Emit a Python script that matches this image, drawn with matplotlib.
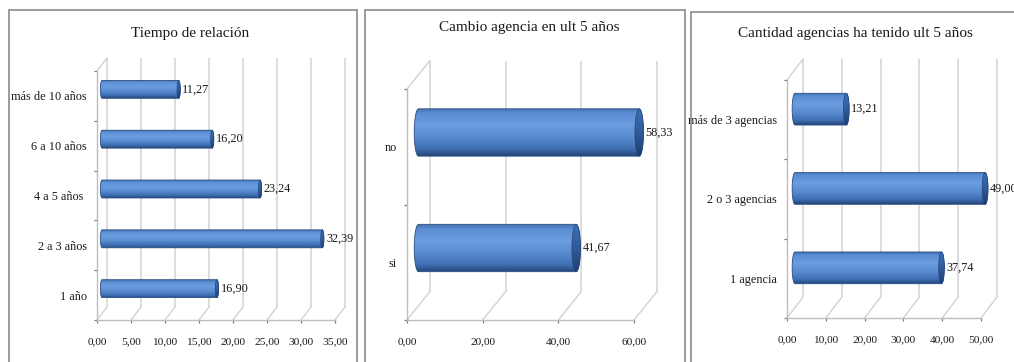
import numpy as np
import matplotlib
matplotlib.use("Agg")
import matplotlib.pyplot as plt
from matplotlib.transforms import ScaledTranslation
from matplotlib.patches import Rectangle, Ellipse, PathPatch, ConnectionPatch
from matplotlib.path import Path
from matplotlib.colors import LinearSegmentedColormap

# ---- data -------------------------------------------------------------
tiempo_cats = ["1 año", "2 a 3 años", "4 a 5 años ", "6 a 10 años", "más de 10 años"]
tiempo_vals = [16.90, 32.39, 23.24, 16.20, 11.27]
tiempo_ticks = [0, 5, 10, 15, 20, 25, 30, 35]

cambio_cats = ["si", "no"]
cambio_vals = [41.67, 58.33]
cambio_ticks = [0, 20, 40, 60]

cantidad_cats = ["1 agencia", "2 o 3 agencias", "más de 3 agencias"]
cantidad_vals = [37.74, 49.00, 13.21]
cantidad_ticks = [0, 10, 20, 30, 40, 50]

titles = ["Tiempo de relación", "Cambio agencia en ult 5 años",
          "Cantidad agencias ha tenido ult 5 años"]

# ---- style ------------------------------------------------------------
W, H, DPI = 1014, 362, 100
plt.rcParams['font.family'] = ['Liberation Serif', 'DejaVu Serif']
TEXT = '#1a1a1a'
GRID = '#d2d2d2'
AXIS = '#bdbdbd'
TICK = '#7a7a7a'
BORDER = '#8a8a8a'
FS_TICK, FS_CAT, FS_VAL, FS_TITLE = 8.2, 8.8, 8.8, 11

body_cmap = LinearSegmentedColormap.from_list('body', [
    (0.00, '#4270ae'), (0.10, '#5a8dd2'), (0.35, '#6b9ee0'),
    (0.60, '#5a8cd1'), (0.85, '#3f6eb2'), (1.00, '#23467a')])
cap_cmap = LinearSegmentedColormap.from_list('cap', [
    (0.0, '#3f6fb1'), (0.5, '#2f5c9b'), (1.0, '#1f3e6d')])
grad = np.linspace(0, 1, 256).reshape(-1, 1)


def fmt(v):
    return f"{v:.2f}".replace('.', ',')


fig = plt.figure(figsize=(W / DPI, H / DPI), dpi=DPI)
fig.patch.set_facecolor('white')


def cylinder_path(x_end, yc, h, a, n=40):
    """Outline of a horizontal cylinder seen slightly from the left."""
    t = np.linspace(np.pi / 2, 3 * np.pi / 2, n)
    left = np.column_stack([a * np.cos(t), yc + h / 2 * np.sin(t)])
    t2 = np.linspace(-np.pi / 2, np.pi / 2, n)
    right = np.column_stack([x_end + a * np.cos(t2), yc + h / 2 * np.sin(t2)])
    pts = np.vstack([left, right, left[:1]])
    codes = [Path.MOVETO] + [Path.LINETO] * (len(pts) - 2) + [Path.CLOSEPOLY]
    return Path(pts, codes)


def panel(front, depth, cats, vals, ticks, bar_frac, title, title_xy, border):
    x0, x1, ytop, ybot = front
    ax = fig.add_axes([x0 / W, 1 - ybot / H, (x1 - x0) / W, (ybot - ytop) / H])
    ax.patch.set_visible(False)
    n = len(cats)
    xlim = (ticks[0], ticks[-1])
    ylim = (-0.5, n - 0.5)
    dx, dy = depth
    back = ax.transData + ScaledTranslation(dx / DPI, dy / DPI, fig.dpi_scale_trans)
    mid = ax.transData + ScaledTranslation(dx / 2 / DPI, dy / 2 / DPI, fig.dpi_scale_trans)

    # back wall gridlines and floor diagonals
    for t in ticks:
        ax.plot([t, t], ylim, transform=back, color=GRID, lw=1.1,
                clip_on=False, zorder=1, solid_capstyle='butt')
        ax.add_artist(ConnectionPatch((t, ylim[0]), (t, ylim[0]),
                                      coordsA=ax.transData, coordsB=back,
                                      color=GRID, lw=1.0, zorder=1))
    # top edge of the side wall
    ax.add_artist(ConnectionPatch((xlim[0], ylim[1]), (xlim[0], ylim[1]),
                                  coordsA=ax.transData, coordsB=back,
                                  color=GRID, lw=1.0, zorder=1))

    # cylinders
    px_x = (x1 - x0) / (xlim[1] - xlim[0])
    px_y = (ybot - ytop) / n
    h = bar_frac
    a = 0.18 * h * px_y / px_x / 2
    for i, v in enumerate(vals):
        path = cylinder_path(v, i, h, a)
        clip = PathPatch(path, transform=mid, facecolor='none', edgecolor='none')
        im = ax.imshow(grad, cmap=body_cmap, aspect='auto', origin='upper',
                       extent=(-a, v + a, i - h / 2, i + h / 2),
                       transform=mid, zorder=3, interpolation='bilinear')
        im.set_clip_path(clip)
        im.set_clip_box(fig.bbox)
        ax.add_patch(PathPatch(path, transform=mid, facecolor='none',
                               edgecolor='#2a4d83', lw=0.6, zorder=3.2,
                               clip_on=False))
        cap = Ellipse((v, i), 2 * a, h, transform=mid, facecolor='none',
                      edgecolor='#23467a', lw=0.5, zorder=3.4, clip_on=False)
        ax.add_patch(cap)
        im2 = ax.imshow(grad, cmap=cap_cmap, aspect='auto', origin='upper',
                        extent=(v - a, v + a, i - h / 2, i + h / 2),
                        transform=mid, zorder=3.3, interpolation='bilinear')
        im2.set_clip_path(cap)
        im2.set_clip_box(fig.bbox)
        ax.annotate(fmt(v), xy=(v + a, i), xycoords=mid, xytext=(1.5, 0),
                    textcoords='offset points', ha='left', va='center',
                    fontsize=FS_VAL, color=TEXT, zorder=4, annotation_clip=False)

    ax.set_xlim(*xlim)
    ax.set_ylim(*ylim)

    # axes: front bottom and left edges with ticks
    for s in ('top', 'right'):
        ax.spines[s].set_visible(False)
    for s in ('bottom', 'left'):
        ax.spines[s].set_color(AXIS)
        ax.spines[s].set_linewidth(1.0)
        ax.spines[s].set_zorder(2)
    ax.set_xticks(ticks)
    ax.set_xticklabels([fmt(t) for t in ticks])
    ax.tick_params(axis='x', length=2.5, width=0.9, color=TICK, pad=10.0,
                   labelsize=FS_TICK, labelcolor=TEXT)
    ax.set_yticks(np.arange(n + 1) - 0.5)
    ax.set_yticklabels([])
    ax.set_yticks(np.arange(n), minor=True)
    ax.set_yticklabels(cats, minor=True)
    ax.tick_params(axis='y', which='major', length=2.5, width=0.9, color=TICK)
    ax.tick_params(axis='y', which='minor', length=0, pad=7.2,
                   labelsize=FS_CAT, labelcolor=TEXT)

    fig.text(title_xy[0] / W, 1 - title_xy[1] / H, title, ha='center',
             va='center', fontsize=FS_TITLE, color=TEXT)

    bx0, by0, bx1, by1 = border
    fig.add_artist(Rectangle((bx0 / W, 1 - by1 / H), (bx1 - bx0) / W,
                             (by1 - by0) / H, transform=fig.transFigure,
                             facecolor='none', edgecolor=BORDER, lw=1.2))
    return ax


panel((97, 335, 71, 320), (10, 13), tiempo_cats, tiempo_vals, tiempo_ticks,
      0.36, titles[0], (190, 33), (9, 10, 357, 366))
panel((407, 634, 89, 320), (23, 28.5), cambio_cats, cambio_vals, cambio_ticks,
      0.41, titles[1], (529, 27), (365, 10, 685, 366))
panel((787, 981, 80, 318), (16, 21), cantidad_cats, cantidad_vals, cantidad_ticks,
      0.40, titles[2], (855, 33), (691, 12, 1020, 366))

fig.savefig('out.png', dpi=DPI, facecolor='white')
